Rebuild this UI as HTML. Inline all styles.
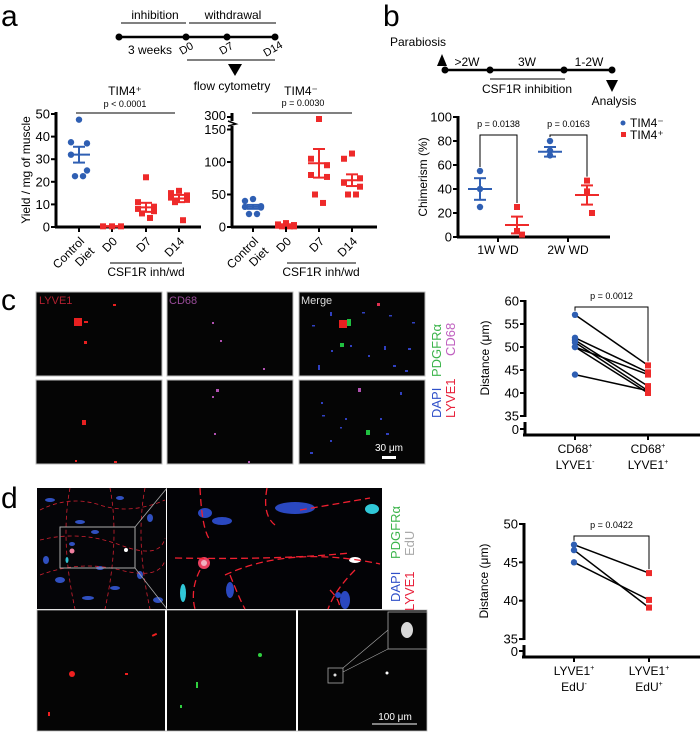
<!DOCTYPE html>
<html><head><meta charset="utf-8">
<style>
html,body{margin:0;padding:0;background:#fff;}
svg{display:block;font-family:"Liberation Sans",Arial,sans-serif;}
</style></head>
<body>
<svg id="fig" width="700" height="735" viewBox="0 0 700 735" xmlns="http://www.w3.org/2000/svg">
<!-- Panel labels -->
<text x="1" y="26" font-size="30">a</text>
<text x="383" y="26" font-size="30">b</text>
<text x="1" y="310" font-size="30">c</text>
<text x="1" y="508" font-size="30">d</text>

<!-- Timeline a -->
<g font-size="12">
 <text x="155" y="19" text-anchor="middle">inhibition</text>
 <text x="233" y="19" text-anchor="middle">withdrawal</text>
 <line x1="121" y1="23" x2="186" y2="23" stroke="#000" stroke-width="1"/>
 <line x1="189" y1="23" x2="276" y2="23" stroke="#000" stroke-width="1"/>
 <line x1="119" y1="37" x2="275" y2="37" stroke="#000" stroke-width="2.5"/>
 <circle cx="119" cy="37" r="3.5"/><circle cx="186" cy="37" r="3.5"/><circle cx="227" cy="37" r="3.5"/><circle cx="275" cy="37" r="3.5"/>
 <text x="150" y="54" text-anchor="middle">3 weeks</text>
 <text transform="translate(182,55) rotate(-30)" font-size="11">D0</text>
 <text transform="translate(222,55) rotate(-30)" font-size="11">D7</text>
 <text transform="translate(266,57) rotate(-30)" font-size="11">D14</text>
 <line x1="187" y1="60" x2="275" y2="60" stroke="#000" stroke-width="1"/>
 <polygon points="228,64 242,64 235,76" fill="#000"/>
 <text x="232" y="90" text-anchor="middle">flow cytometry</text>
</g>

<!-- Timeline b -->
<g font-size="12">
 <text x="418" y="46" text-anchor="middle">Parabiosis</text>
 <polygon points="437,66 447,66 442,54" fill="#000"/>
 <line x1="445" y1="70" x2="612" y2="70" stroke="#000" stroke-width="2.5"/>
 <circle cx="445" cy="70" r="3.5"/><circle cx="490" cy="70" r="3.5"/><circle cx="564" cy="70" r="3.5"/><circle cx="612" cy="70" r="3.5"/>
 <text x="467" y="66" text-anchor="middle">&gt;2W</text>
 <text x="527" y="66" text-anchor="middle">3W</text>
 <text x="589" y="66" text-anchor="middle">1-2W</text>
 <line x1="490" y1="79" x2="565" y2="79" stroke="#000" stroke-width="1"/>
 <text x="527" y="93" text-anchor="middle">CSF1R inhibition</text>
 <polygon points="606,80 618,80 612,92" fill="#000"/>
 <text x="614" y="105" text-anchor="middle">Analysis</text>
</g>

<g id="charts"></g>

<!-- Microscopy c -->
<g>
 <rect x="36" y="292" width="126" height="84" fill="#050505" stroke="#bbb"/>
 <rect x="167" y="292" width="126" height="84" fill="#050505" stroke="#bbb"/>
 <rect x="299" y="292" width="126" height="84" fill="#050505" stroke="#bbb"/>
 <rect x="36" y="380" width="126" height="84" fill="#050505" stroke="#bbb"/>
 <rect x="167" y="380" width="126" height="84" fill="#050505" stroke="#bbb"/>
 <rect x="299" y="380" width="126" height="84" fill="#050505" stroke="#bbb"/>
 <text x="39" y="304" font-size="11" fill="#b22030">LYVE1</text>
 <text x="169" y="304" font-size="11" fill="#9a4c9a">CD68</text>
 <text x="301" y="304" font-size="11" fill="#ddd">Merge</text>
 <rect x="74" y="318" width="8" height="8" fill="#e82020"/><rect x="84" y="321" width="4" height="2" fill="#e82020"/><rect x="84" y="341" width="3" height="3" fill="#e82020"/><rect x="113" y="304" width="3" height="2" fill="#e82020"/>
 <rect x="212" y="322" width="2" height="2" fill="#b050b0"/><rect x="220" y="340" width="2" height="2" fill="#b050b0"/><rect x="263" y="368" width="2" height="2" fill="#b050b0"/>
 <rect x="339" y="320" width="8" height="8" fill="#e82020"/><rect x="347" y="319" width="4" height="7" fill="#20c040"/><rect x="340" y="343" width="4" height="4" fill="#20c040"/><rect x="377" y="303" width="3" height="3" fill="#e03050"/>
 <g fill="#3040c0"><rect x="312" y="325" width="3" height="1.5"/><rect x="330" y="312" width="2" height="4"/><rect x="362" y="312" width="3" height="1.5"/><rect x="389" y="315" width="3" height="1.5"/><rect x="412" y="322" width="3" height="1.5"/><rect x="318" y="365" width="2" height="5"/><rect x="350" y="345" width="2" height="2"/><rect x="384" y="346" width="2" height="4"/><rect x="393" y="365" width="3" height="2"/><rect x="408" y="348" width="3" height="2"/><rect x="331" y="350" width="2" height="2"/><rect x="368" y="355" width="2" height="2"/><rect x="405" y="370" width="3" height="2"/></g>
 <rect x="82" y="420" width="4" height="5" fill="#e82020"/><rect x="114" y="461" width="3" height="2" fill="#e82020"/><rect x="75" y="460" width="2" height="2" fill="#e82020"/>
 <rect x="216" y="389" width="3" height="3" fill="#b050b0"/><rect x="212" y="396" width="2" height="2" fill="#b050b0"/><rect x="214" y="433" width="2" height="2" fill="#b050b0"/><rect x="248" y="461" width="2" height="2" fill="#b050b0"/>
 <rect x="366" y="430" width="4" height="5" fill="#20c040"/><rect x="358" y="388" width="3" height="4" fill="#b050b0"/>
 <g fill="#3040c0"><rect x="321" y="402" width="2" height="2"/><rect x="322" y="415" width="3" height="1.5"/><rect x="340" y="427" width="2" height="1.5"/><rect x="345" y="418" width="2" height="2"/><rect x="380" y="418" width="2" height="2"/><rect x="310" y="452" width="3" height="2"/><rect x="386" y="433" width="3" height="2"/><rect x="400" y="392" width="2" height="3"/><rect x="330" y="440" width="2" height="2"/></g>
 <text x="389" y="451" font-size="10" fill="#fff" text-anchor="middle">30 μm</text>
 <rect x="382" y="456" width="14" height="3" fill="#fff"/>
 <text transform="translate(441,377) rotate(-90)" font-size="13" fill="#3cb44b">PDGFRα</text>
 <text transform="translate(455,356) rotate(-90)" font-size="13" fill="#c060c0">CD68</text>
 <text transform="translate(441,418) rotate(-90)" font-size="13" fill="#3050c8">DAPI</text>
 <text transform="translate(455,418) rotate(-90)" font-size="13" fill="#e8203a">LYVE1</text>
</g>

<!-- Microscopy d -->
<g>
 <rect x="37" y="488" width="129" height="121" fill="#050508"/>
 <g fill="#3050c0">
  <ellipse cx="50" cy="500" rx="5" ry="2"/><ellipse cx="80" cy="522" rx="5" ry="2"/><ellipse cx="95" cy="532" rx="4" ry="2"/><ellipse cx="120" cy="498" rx="4" ry="2"/><ellipse cx="150" cy="518" rx="3" ry="4"/><ellipse cx="60" cy="580" rx="5" ry="3"/><ellipse cx="88" cy="598" rx="6" ry="2"/><ellipse cx="115" cy="588" rx="5" ry="2"/><ellipse cx="140" cy="575" rx="3" ry="4"/><ellipse cx="46" cy="560" rx="3" ry="4"/><ellipse cx="158" cy="600" rx="5" ry="3"/><ellipse cx="100" cy="568" rx="4" ry="2"/><ellipse cx="72" cy="544" rx="3" ry="2"/>
 </g>
 <g fill="none" stroke="#d02030" stroke-width="0.8" stroke-dasharray="4 3">
  <path d="M40 510 Q70 495 100 505 T165 500"/><path d="M40 540 Q80 530 120 545 T165 538"/><path d="M40 575 Q80 560 120 570 T165 560"/><path d="M70 488 Q60 540 75 609"/><path d="M110 488 Q120 540 105 609"/><path d="M145 488 Q135 540 150 609"/>
 </g>
 <rect x="60" y="527" width="75" height="41" fill="none" stroke="#aaa" stroke-width="1"/>
 <circle cx="72" cy="551" r="2.5" fill="#f080a0"/><circle cx="126" cy="550" r="2" fill="#fff"/><ellipse cx="67" cy="560" rx="1.5" ry="3" fill="#30c0d0"/>
 <line x1="135" y1="527" x2="167" y2="488" stroke="#aaa" stroke-width="0.8"/>
 <line x1="135" y1="568" x2="167" y2="609" stroke="#aaa" stroke-width="0.8"/>
 <rect x="167" y="488" width="215" height="121" fill="#030306"/>
 <g fill="#2a48c0"><ellipse cx="205" cy="513" rx="7" ry="5"/><ellipse cx="222" cy="521" rx="10" ry="4"/><ellipse cx="295" cy="508" rx="20" ry="6"/><ellipse cx="345" cy="600" rx="5" ry="9"/><ellipse cx="230" cy="590" rx="4" ry="8"/><ellipse cx="338" cy="595" rx="3" ry="3"/></g>
 <ellipse cx="372" cy="509" rx="7" ry="5" fill="#30c8d8"/><ellipse cx="183" cy="593" rx="3" ry="9" fill="#30c8d8"/>
 <circle cx="204" cy="563" r="6" fill="#e84060"/><circle cx="204" cy="563" r="3" fill="#f0b0c0"/>
 <ellipse cx="355" cy="560" rx="6" ry="3" fill="#fff"/>
 <g fill="none" stroke="#f02030" stroke-width="1.3" stroke-dasharray="7 4">
  <path d="M175 558 Q280 560 350 553"/><path d="M225 575 Q290 545 380 564"/><path d="M200 488 Q202 530 210 540"/><path d="M267 488 Q262 515 275 525"/><path d="M300 510 Q330 505 370 498"/><path d="M200 570 Q190 590 195 609"/><path d="M330 590 Q340 600 340 609"/><path d="M355 570 Q335 590 328 609"/><path d="M230 575 Q240 600 245 609"/>
 </g>
 <rect x="37" y="610" width="128" height="121" fill="#050505"/>
 <rect x="167" y="610" width="129" height="121" fill="#050505"/>
 <rect x="298" y="610" width="129" height="121" fill="#050505"/>
 <rect x="37" y="610" width="390" height="121" fill="none" stroke="#bbb" stroke-width="0.8"/>
 <circle cx="72" cy="674" r="3" fill="#f02020"/><rect x="152" y="634" width="5" height="2" fill="#f02020" transform="rotate(-25 154 635)"/><rect x="125" y="673" width="3" height="2" fill="#f02020"/><rect x="48" y="712" width="2" height="4" fill="#f02020"/>
 <circle cx="260" cy="655" r="2" fill="#30d040"/><rect x="196" y="682" width="2" height="6" fill="#30d040"/><rect x="180" y="705" width="2" height="3" fill="#30d040"/>
 <rect x="328" y="668" width="15" height="15" fill="none" stroke="#aaa" stroke-width="0.8"/><circle cx="335" cy="675" r="1.5" fill="#ddd"/><circle cx="387" cy="673" r="1.5" fill="#fff"/>
 <rect x="388" y="612" width="39" height="37" fill="#050505" stroke="#aaa" stroke-width="0.8"/>
 <ellipse cx="407" cy="630" rx="6" ry="8" fill="#d8d8d8"/>
 <line x1="343" y1="668" x2="388" y2="630" stroke="#aaa" stroke-width="0.6"/><line x1="343" y1="672" x2="388" y2="649" stroke="#aaa" stroke-width="0.6"/>
 <text x="395" y="720" font-size="10" fill="#fff" text-anchor="middle">100 μm</text>
 <line x1="372" y1="724" x2="417" y2="724" stroke="#fff" stroke-width="1"/>
 <text transform="translate(400,559) rotate(-90)" font-size="13" fill="#3cb44b">PDGFRα</text>
 <text transform="translate(414,556) rotate(-90)" font-size="13" fill="#aaa">EdU</text>
 <text transform="translate(400,602) rotate(-90)" font-size="13" fill="#3050c8">DAPI</text>
 <text transform="translate(414,611) rotate(-90)" font-size="13" fill="#e8203a">LYVE1</text>
</g>
</svg>
<script>
// ---- Panel a (TIM4+) ----
const aCats = ["Control Diet","D0","D7","D14"];
const aTim4pos = [[47.5,37.5,37,32,25,22.5,22.5],[0.3,0.3,0.3],[22,11,9,8,7,6,4],[16,15,14,13,12,11,3]];
const aTim4posMean = [32,0.3,8.7,12.6];
const aTim4posSem = [3.5,0.1,2,1.6];
const aTicksLeft = [0,10,20,30,40,50];
// ---- Panel a (TIM4-) ----
const aTim4neg = [[43,40,32,31,30,20,20],[6,4,3,2,1,1,1],[300,105,95,80,77,50,37],[113,105,75,68,62,50,50]];
const aTim4negMean = [31,3,98,72];
const aTim4negSem = [3,1,22,9];
const aTicksRight = [0,50,100,150];
// ---- Panel b ----
const bGroups = ["1W WD","2W WD"];
const bTim4neg = [[55,40,25],[80,72,68]];
const bTim4pos = [[25,5,2],[47,38,20]];
const bNegMean = [40,71]; const bNegSem = [9,4];
const bPosMean = [10,35]; const bPosSem = [7,8];
const bTicks = [0,20,40,60,80,100];
const bPvals = ["p = 0.0138","p = 0.0163"];
// ---- Panel c ----
const cBefore = [57,52,51.5,51,50,50,44];
const cAfter = [46,44.5,41.5,40.5,44,40,40.5];
const cTicks = [35,40,45,50,55,60];
// ---- Panel d ----
const dBefore = [47.3,46.6,45];
const dAfter = [43.6,39.1,40.1];
const dTicks = [35,40,45,50];

const NS="http://www.w3.org/2000/svg";
const root=document.getElementById('charts');
function mk(tag,attrs,parent,txt){const e=document.createElementNS(NS,tag);for(const k in attrs)e.setAttribute(k,attrs[k]);if(txt!==undefined)e.textContent=txt;(parent||root).appendChild(e);return e;}
const BLUE="#2f5fb3", RED="#ee2a2a";
const jit=[0,-8,8,-8,8,-4,4];

function dot(x,y,color,square,parent){
  let e;
  if(square){e=mk('rect',{x:x-3,y:y-3,width:6,height:6,fill:color},parent);}
  else{e=mk('circle',{cx:x,cy:y,r:3.2,fill:color},parent);}
  
  
  return e;
}
function errbar(x,ym,ylo,yhi,color,parent,w){
  w=w||11;
  mk('line',{x1:x-w,x2:x+w,y1:ym,y2:ym,stroke:color,'stroke-width':2},parent);
  mk('line',{x1:x,x2:x,y1:ylo,y2:yhi,stroke:color,'stroke-width':2},parent);
  mk('line',{x1:x-6,x2:x+6,y1:ylo,y2:ylo,stroke:color,'stroke-width':2},parent);
  mk('line',{x1:x-6,x2:x+6,y1:yhi,y2:yhi,stroke:color,'stroke-width':2},parent);
}
function yAxis(g,x,y0,y1,ticks,ys,labels){
  mk('line',{x1:x,x2:x,y1:y0,y2:y1,stroke:'#000','stroke-width':3},g);
  ticks.forEach((t,i)=>{const y=ys(t);mk('line',{x1:x-5,x2:x,y1:y,y2:y,stroke:'#000','stroke-width':2},g);
    const tl=mk('text',{x:x-6,y:y+4.5,'font-size':13,'text-anchor':'end'},g,labels?labels[i]:t);
    });
}
function catLabelsRot(g,xs,y,cats){
  cats.forEach((c,i)=>{
    const parts=c.split(' ');
    parts.forEach((p,j)=>{
      const t=mk('text',{transform:`translate(${xs[i]+6-j*0+ (j? 10:0)},${y+ (j?10:0)}) rotate(-45)`,'font-size':12,'text-anchor':'end'},g,p);
      
    });
  });
}

// ===== Panel a left =====
(function(){
 const g=mk('g',{});
 
 
 const y=v=>227-v*2.26;
 const xs=[79,112,146,179];
 yAxis(g,56,112,228,aTicksLeft,y);
 mk('line',{x1:55,x2:201,y1:227,y2:227,stroke:'#000','stroke-width':3},g);
 xs.forEach(x=>mk('line',{x1:x,x2:x,y1:227,y2:232,stroke:'#000','stroke-width':2},g));
 aTim4pos.forEach((arr,i)=>{const col=i===0?BLUE:RED;
   arr.forEach((v,j)=>dot(xs[i]+(i===1?(j-1)*9:jit[j]),y(v),col,i>0,g));
   errbar(xs[i],y(aTim4posMean[i]),y(aTim4posMean[i]-aTim4posSem[i]),y(aTim4posMean[i]+aTim4posSem[i]),col,g);});
 mk('text',{x:125,y:95,'font-size':12,'text-anchor':'middle'},g,'TIM4⁺');
 mk('text',{x:125,y:107,'font-size':9,'text-anchor':'middle'},g,'p < 0.0001');
 mk('line',{x1:76,x2:175,y1:113,y2:113,stroke:'#000','stroke-width':1},g);
 const yt=mk('text',{transform:'translate(30,170) rotate(-90)','font-size':12,'text-anchor':'middle'},g,'Yield / mg of muscle');
 
 catLabelsRot(g,xs,242,aCats);
 mk('line',{x1:110,x2:182,y1:263,y2:263,stroke:'#000','stroke-width':1},g);
 mk('text',{x:146,y:276,'font-size':12,'text-anchor':'middle'},g,'CSF1R inh/wd');
})();

// ===== Panel a right =====
(function(){
 const g=mk('g',{});
 
 
 const y=v=>v<=150?227-v*0.65:130-(v-150)*(11/150);
 const xs=[253,286,319,352];
 yAxis(g,232,126,228,aTicksRight,y);
 mk('line',{x1:232,x2:232,y1:113,y2:121,stroke:'#000','stroke-width':3},g);
 mk('line',{x1:227,x2:232,y1:117,y2:117,stroke:'#000','stroke-width':2},g);
 mk('text',{x:226,y:120,'font-size':13,'text-anchor':'end'},g,'300');
 mk('path',{d:'M228 121 L236 124 L228 126',fill:'none',stroke:'#000','stroke-width':1.5},g);
 mk('line',{x1:231,x2:377,y1:227,y2:227,stroke:'#000','stroke-width':3},g);
 xs.forEach(x=>mk('line',{x1:x,x2:x,y1:227,y2:232,stroke:'#000','stroke-width':2},g));
 aTim4neg.forEach((arr,i)=>{const col=i===0?BLUE:RED;
   arr.forEach((v,j)=>dot(xs[i]+jit[j],y(v),col,i>0,g));
   errbar(xs[i],y(aTim4negMean[i]),y(aTim4negMean[i]-aTim4negSem[i]),y(aTim4negMean[i]+aTim4negSem[i]),col,g);});
 mk('text',{x:301,y:95,'font-size':12,'text-anchor':'middle'},g,'TIM4⁻');
 mk('text',{x:303,y:106,'font-size':9,'text-anchor':'middle'},g,'p = 0.0030');
 mk('line',{x1:252,x2:352,y1:113,y2:113,stroke:'#000','stroke-width':1},g);
 catLabelsRot(g,xs,242,aCats);
 mk('line',{x1:287,x2:356,y1:263,y2:263,stroke:'#000','stroke-width':1},g);
 mk('text',{x:321,y:276,'font-size':12,'text-anchor':'middle'},g,'CSF1R inh/wd');
})();

// ===== Panel b =====
(function(){
 const g=mk('g',{});
 
 
 const y=v=>237-v*1.2;
 const gx=[498,568], off=[-18,19];
 yAxis(g,458,116,238,bTicks,y);
 mk('line',{x1:457,x2:610,y1:237,y2:237,stroke:'#000','stroke-width':3},g);
 gx.forEach(x=>mk('line',{x1:x,x2:x,y1:237,y2:242,stroke:'#000','stroke-width':2},g));
 bGroups.forEach((lab,i)=>{
   const xn=gx[i]+off[0], xp=gx[i]+off[1];
   bTim4neg[i].forEach(v=>dot(xn,y(v),BLUE,false,g));
   bTim4pos[i].forEach((v,j)=>dot(xp+(j===2?5:0),y(v),RED,true,g));
   errbar(xn,y(bNegMean[i]),y(bNegMean[i]-bNegSem[i]),y(bNegMean[i]+bNegSem[i]),BLUE,g,12);
   errbar(xp,y(bPosMean[i]),y(bPosMean[i]-bPosSem[i]),y(bPosMean[i]+bPosSem[i]),RED,g,12);
   const top=135;
   mk('path',{d:`M${xn} ${y(Math.max(...bTim4neg[i]))-4} V${top} H${xp} V${y(Math.max(...bTim4pos[i]))-4}`,fill:'none',stroke:'#000','stroke-width':1},g);
   mk('text',{x:(xn+xp)/2,y:127,'font-size':9,'text-anchor':'middle'},g,bPvals[i]);
   const t=mk('text',{x:gx[i],y:254,'font-size':12,'text-anchor':'middle'},g,lab);
   
 });
 const yt=mk('text',{transform:'translate(427,177) rotate(-90)','font-size':12,'text-anchor':'middle'},g,'Chimerism (%)');
 
 const l1=mk('g',{},g);
 
 
 mk('circle',{cx:623,cy:123,r:2.5,fill:BLUE},l1);mk('text',{x:630,y:127,'font-size':12},l1,'TIM4⁻');
 const l2=mk('g',{},g);
 
 
 mk('rect',{x:621,y:132,width:5,height:5,fill:RED},l2);mk('text',{x:630,y:139,'font-size':12},l2,'TIM4⁺');
})();

// ===== paired charts c & d =====
function paired(name,before,after,ticks,y,y0pos,topY,x0,xs,pText,pY,cats){
 const g=mk('g',{});
 
 
 yAxis(g,x0,topY,y(ticks[0])+1,ticks,y);
 mk('line',{x1:x0,x2:x0,y1:y(ticks[0])+6,y2:y0pos,stroke:'#000','stroke-width':3},g);
 mk('line',{x1:x0-5,x2:x0,y1:y0pos-6,y2:y0pos-6,stroke:'#000','stroke-width':2},g);
 mk('text',{x:x0-6,y:y0pos-1,'font-size':13,'text-anchor':'end'},g,'0');
 mk('line',{x1:x0-2,x2:700,y1:y0pos,y2:y0pos,stroke:'#000','stroke-width':3},g);
 xs.forEach(x=>mk('line',{x1:x,x2:x,y1:y0pos,y2:y0pos+5,stroke:'#000','stroke-width':2},g));
 before.forEach((v,i)=>{const l=mk('line',{x1:xs[0],y1:y(v),x2:xs[1],y2:y(after[i]),stroke:'#000','stroke-width':1.5},g);
   });
 before.forEach(v=>dot(xs[0],y(v),BLUE,false,g));
 after.forEach(v=>dot(xs[1],y(v),RED,true,g));
 mk('path',{d:`M${xs[0]} ${y(Math.max(...before))-4} V${pY+8} H${xs[1]} V${y(Math.max(...after))-4}`,fill:'none',stroke:'#000','stroke-width':1},g);
 mk('text',{x:(xs[0]+xs[1])/2,y:pY,'font-size':9,'text-anchor':'middle'},g,pText);
 const yt=mk('text',{transform:`translate(${x0-36},${(topY+y(ticks[0]))/2}) rotate(-90)`,'font-size':12,'text-anchor':'middle'},g,'Distance (μm)');
 
 cats.forEach((c,i)=>{c.forEach((s,j)=>{const t=mk('text',{x:xs[i],y:y0pos+18+j*16,'font-size':12,'text-anchor':'middle'},g);t.innerHTML=s;
   });});
}
paired('chart-c-distance',cBefore,cAfter,cTicks,v=>301+(60-v)*4.6,435,300,525,[575,648],'p = 0.0012',299,
 [['CD68<tspan font-size="7" dy="-5">+</tspan>','LYVE1<tspan font-size="7" dy="-5">-</tspan>'],['CD68<tspan font-size="7" dy="-5">+</tspan>','LYVE1<tspan font-size="7" dy="-5">+</tspan>']]);
paired('chart-d-distance',dBefore,dAfter,dTicks,v=>524+(50-v)*7.67,657,523,524,[574,649],'p = 0.0422',528,
 [['LYVE1<tspan font-size="7" dy="-5">+</tspan>','EdU<tspan font-size="7" dy="-5">-</tspan>'],['LYVE1<tspan font-size="7" dy="-5">+</tspan>','EdU<tspan font-size="7" dy="-5">+</tspan>']]);
</script>
</body></html>
